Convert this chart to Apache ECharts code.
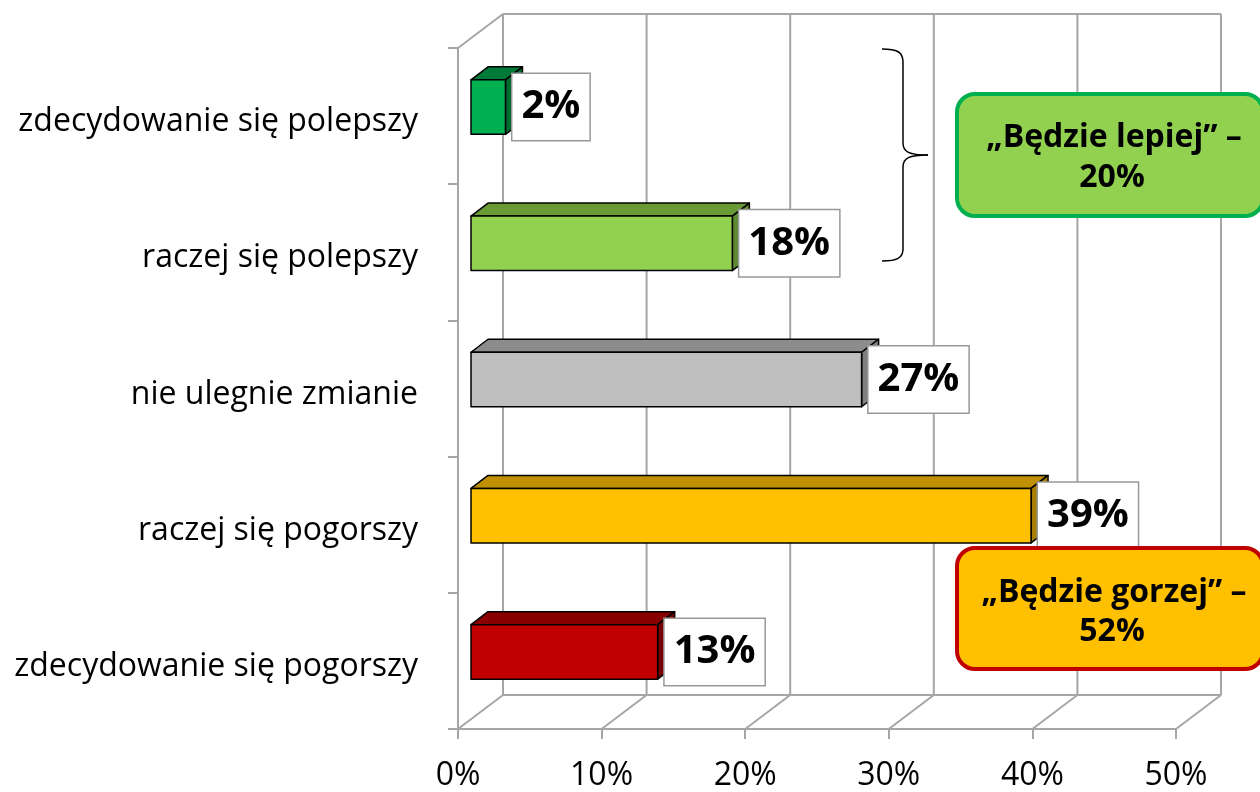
<!DOCTYPE html>
<html>
<head>
<meta charset="utf-8">
<script src="https://cdn.jsdelivr.net/npm/echarts@6/dist/echarts.min.js"></script>
<style>html,body{margin:0;padding:0;background:#fff;}#c{width:1260px;height:792px;}</style>
</head>
<body>
<div id="c"></div>
<script>
var categories = ['zdecydowanie się polepszy', 'raczej się polepszy', 'nie ulegnie zmianie', 'raczej się pogorszy', 'zdecydowanie się pogorszy'];
var values = [2.4, 18.2, 27.2, 39.0, 13.0];
var frontColors = ['#00B050', '#92D050', '#BFBFBF', '#FFC000', '#C00000'];
var topColors = ['#007A38', '#6A9A36', '#8C8C8C', '#C09000', '#8A0000'];
var sideColors = ['#006B30', '#5E8A30', '#7F7F7F', '#A87E00', '#7A0000'];
var xTicks = [0, 10, 20, 30, 40, 50];
var noteBetter = ['„Będzie lepiej” –', '20%'];
var noteWorse = ['„Będzie gorzej” –', '52%'];

var FONT = '"Open Sans", "Liberation Sans", sans-serif';
var BACK_DX = 45, BACK_DY = -34;
var BAR_DX = 13, BAR_DY = -9;
var DEP_DX = 17, DEP_DY = -13;
var WALL = '#A6A6A6';

var chart = echarts.init(document.getElementById('c'));

function wallRender(params, api) {
  var cs = params.coordSys;
  var v = api.value(0);
  var p = api.coord([v, 0]);
  var x = p[0];
  var top = cs.y, bottom = cs.y + cs.height;
  var children = [
    {type: 'line', shape: {x1: x + BACK_DX, y1: top + BACK_DY, x2: x + BACK_DX, y2: bottom + BACK_DY}, style: {stroke: WALL, lineWidth: 2}},
    {type: 'line', shape: {x1: x, y1: bottom, x2: x + BACK_DX, y2: bottom + BACK_DY}, style: {stroke: WALL, lineWidth: 2}}
  ];
  if (params.dataIndex === 0) {
    var right = cs.x + cs.width;
    children.push({type: 'line', shape: {x1: cs.x + BACK_DX, y1: top + BACK_DY, x2: right + BACK_DX, y2: top + BACK_DY}, style: {stroke: WALL, lineWidth: 2}});
    children.push({type: 'line', shape: {x1: cs.x + BACK_DX, y1: bottom + BACK_DY, x2: right + BACK_DX, y2: bottom + BACK_DY}, style: {stroke: WALL, lineWidth: 2}});
    children.push({type: 'line', shape: {x1: cs.x, y1: top, x2: cs.x + BACK_DX, y2: top + BACK_DY}, style: {stroke: WALL, lineWidth: 2}});
  }
  return {type: 'group', children: children};
}

function barRender(params, api) {
  var idx = api.value(1);
  var val = api.value(0);
  var s = api.coord([0, idx]);
  var e = api.coord([val, idx]);
  var band = api.size([0, 1])[1];
  var h = band * 0.40;
  var cy = s[1] + BAR_DY;
  var x0 = s[0] + BAR_DX, x1 = e[0] + BAR_DX;
  var y0 = cy - h / 2, y1 = cy + h / 2;
  var i = params.dataIndex;
  function st(fill) { return {fill: fill, stroke: '#000', lineWidth: 1.5, lineJoin: 'round'}; }
  return {
    type: 'group',
    children: [
      {type: 'polygon', shape: {points: [[x0, y0], [x1, y0], [x1 + DEP_DX, y0 + DEP_DY], [x0 + DEP_DX, y0 + DEP_DY]]}, style: st(topColors[i])},
      {type: 'polygon', shape: {points: [[x1, y0], [x1 + DEP_DX, y0 + DEP_DY], [x1 + DEP_DX, y1 + DEP_DY], [x1, y1]]}, style: st(sideColors[i])},
      {type: 'rect', shape: {x: x0, y: y0, width: x1 - x0, height: h}, style: st(frontColors[i])},
      {type: 'text', x: x1 + 7, y: cy, style: {
        text: Math.round(val) + '%', font: 'bold 40px ' + FONT, fill: '#000',
        align: 'left', verticalAlign: 'middle',
        backgroundColor: '#fff', borderColor: '#999', borderWidth: 1.5,
        padding: [11, 9, 11, 9], lineHeight: 44
      }}
    ]
  };
}

var bracketStyle = {fill: 'none', stroke: '#000', lineWidth: 1.5};
var noteFont = 'bold 32px ' + FONT;

var option = {
  backgroundColor: '#fff',
  animation: false,
  grid: {left: 458, top: 48, width: 718, height: 683, containLabel: false},
  xAxis: {
    type: 'value', min: 0, max: 50, interval: 10,
    axisLine: {show: true, lineStyle: {color: WALL, width: 2}},
    axisTick: {show: true, length: 10, lineStyle: {color: WALL, width: 2}},
    splitLine: {show: false},
    axisLabel: {formatter: '{value}%', fontSize: 32, fontFamily: FONT, color: '#000', margin: 31}
  },
  yAxis: {
    type: 'category', data: categories, inverse: true,
    axisLine: {show: true, lineStyle: {color: WALL, width: 2}},
    axisTick: {show: true, length: 10, lineStyle: {color: WALL, width: 2}},
    axisLabel: {fontSize: 32, fontFamily: FONT, color: '#000', margin: 40, verticalAlign: 'top', lineHeight: 12}
  },
  series: [
    {type: 'custom', renderItem: wallRender, data: xTicks.map(function (t) { return [t, 0]; }), z: 1, silent: true},
    {type: 'custom', renderItem: barRender, data: values.map(function (v, i) { return [v, i]; }), z: 5, silent: true}
  ],
  graphic: [
    {type: 'bezierCurve', z: 100, shape: {x1: 882, y1: 49, x2: 903, y2: 62, cpx1: 897, cpy1: 49, cpx2: 903, cpy2: 52}, style: bracketStyle},
    {type: 'line', z: 100, shape: {x1: 903, y1: 62, x2: 903, y2: 143}, style: bracketStyle},
    {type: 'bezierCurve', z: 100, shape: {x1: 903, y1: 143, x2: 928, y2: 155, cpx1: 903, cpy1: 152, cpx2: 909, cpy2: 155}, style: bracketStyle},
    {type: 'bezierCurve', z: 100, shape: {x1: 928, y1: 155, x2: 903, y2: 167, cpx1: 909, cpy1: 155, cpx2: 903, cpy2: 158}, style: bracketStyle},
    {type: 'line', z: 100, shape: {x1: 903, y1: 167, x2: 903, y2: 249}, style: bracketStyle},
    {type: 'bezierCurve', z: 100, shape: {x1: 903, y1: 249, x2: 882, y2: 261, cpx1: 903, cpy1: 258, cpx2: 897, cpy2: 261}, style: bracketStyle},
    {type: 'rect', z: 100, shape: {x: 957, y: 94, width: 306, height: 122, r: 18}, style: {fill: '#92D050', stroke: '#00B050', lineWidth: 4}},
    {type: 'text', z: 101, x: 1114, y: 138, style: {text: noteBetter[0], font: noteFont, fill: '#000', align: 'center', verticalAlign: 'middle'}},
    {type: 'text', z: 101, x: 1112, y: 178, style: {text: noteBetter[1], font: noteFont, fill: '#000', align: 'center', verticalAlign: 'middle'}},
    {type: 'rect', z: 100, shape: {x: 957, y: 548, width: 306, height: 121, r: 18}, style: {fill: '#FFC000', stroke: '#C00000', lineWidth: 4}},
    {type: 'text', z: 101, x: 1114, y: 593, style: {text: noteWorse[0], font: noteFont, fill: '#000', align: 'center', verticalAlign: 'middle'}},
    {type: 'text', z: 101, x: 1112, y: 632, style: {text: noteWorse[1], font: noteFont, fill: '#000', align: 'center', verticalAlign: 'middle'}}
  ]
};
chart.setOption(option);
</script>
</body>
</html>
